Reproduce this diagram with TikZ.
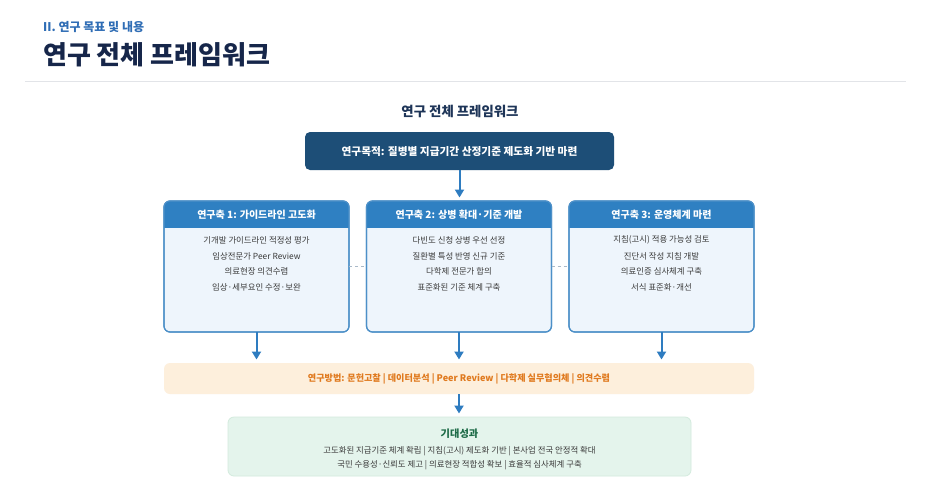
\documentclass[tikz,border=0pt]{standalone}
\usepackage{fontspec}
\setmainfont{Noto Sans CJK KR}
\usetikzlibrary{arrows.meta}
\definecolor{secc}{HTML}{2F6DB5}
\definecolor{titlec}{HTML}{16264A}
\definecolor{subc}{HTML}{1E3558}
\definecolor{rulec}{HTML}{E2E4E8}
\definecolor{goalc}{HTML}{1D4E77}
\definecolor{arrowc}{HTML}{2E7CC0}
\definecolor{hdrc}{HTML}{2F80C2}
\definecolor{bodyc}{HTML}{EEF5FC}
\definecolor{borderc}{HTML}{4D90C8}
\definecolor{itemc}{HTML}{3A3A3A}
\definecolor{dashc}{HTML}{A9B9C8}
\definecolor{methc}{HTML}{FDEFDC}
\definecolor{methtc}{HTML}{E07A1F}
\definecolor{resc}{HTML}{E4F4EC}
\definecolor{resbc}{HTML}{D3EBDD}
\definecolor{restc}{HTML}{1D6B47}
\tikzset{
  arr/.style={draw=arrowc, line width=2pt, -{Triangle[length=8pt,width=9pt]}, shorten >=3.5pt},
  colbox/.style={draw=borderc, fill=bodyc, line width=1.2pt, rounded corners=6pt, outer sep=0pt,
    minimum width=185pt, minimum height=131pt, inner sep=0pt},
  coltitle/.style={font=\fontsize{10}{12}\selectfont\bfseries, text=white, inner sep=0pt},
  item/.style={font=\fontsize{8.4}{10}\selectfont, text=itemc, inner sep=0pt},
  resitem/.style={font=\fontsize{8.4}{10}\selectfont, text=itemc, inner sep=0pt},
  dashline/.style={draw=dashc, line width=0.8pt, dash pattern=on 3pt off 3pt},
}
\begin{document}
\begin{tikzpicture}[x=1pt,y=-1pt]
\useasboundingbox (0,0) rectangle (931,483);
\fill[white] (0,0) rectangle (931,483);
% header
\node[anchor=west, inner sep=0pt, text=secc, font=\fontsize{12}{14}\selectfont\bfseries] (sec) at (43,27) {II. 연구 목표 및 내용};
\node[anchor=west, inner sep=0pt, text=titlec, font=\fontsize{26}{30}\selectfont\bfseries] (ttl) at (43,55) {연구 전체 프레임워크};
\coordinate (rl) at (25,81);
\coordinate (rr) at (906,81);
\draw[rulec, line width=1pt] (rl) -- (rr);
\node[inner sep=0pt, text=subc, font=\fontsize{13.4}{15}\selectfont\bfseries] (sub) at (460,111) {연구 전체 프레임워크};
% goal
\node[fill=goalc, rounded corners=5pt, minimum width=309pt, minimum height=38pt, outer sep=0pt,
  text=white, font=\fontsize{10.7}{12}\selectfont\bfseries] (goal) at (459.5,151) {연구목적: 질병별 지급기간 산정기준 제도화 기반 마련};
% columns
\node[colbox] (c1) at (256.5,266.5) {};
\node[colbox] (c2) at (459,266.5) {};
\node[colbox] (c3) at (661.5,266.5) {};
\foreach \c in {c1,c2,c3}{
  \begin{scope}
    \clip[rounded corners=6pt] (\c.north west) rectangle (\c.south east);
    \fill[hdrc] (\c.north west) rectangle ([yshift=-27pt]\c.north east);
  \end{scope}
  \draw[borderc, line width=1.2pt, rounded corners=6pt] (\c.north west) rectangle (\c.south east);
}
\node[coltitle] (t1) at ([yshift=-13.5pt]c1.north) {연구축 1: 가이드라인 고도화};
\node[coltitle] (t2) at ([yshift=-13.5pt]c2.north) {연구축 2: 상병 확대·기준 개발};
\node[coltitle] (t3) at ([yshift=-13.5pt]c3.north) {연구축 3: 운영체계 마련};
\node[item] (i11) at (256.5,240) {기개발 가이드라인 적정성 평가};
\node[item] (i12) at (256.5,256) {임상전문가 Peer Review};
\node[item] (i13) at (256.5,271.5) {의료현장 의견수렴};
\node[item] (i14) at (256.5,287) {임상·세부요인 수정·보완};
\node[item] (i21) at (459,240) {다빈도 신청 상병 우선 선정};
\node[item] (i22) at (459,256) {질환별 특성 반영 신규 기준};
\node[item] (i23) at (459,271.5) {다학제 전문가 합의};
\node[item] (i24) at (459,287) {표준화된 기준 체계 구축};
\node[item] (i31) at (661.5,240) {지침(고시) 적용 가능성 검토};
\node[item] (i32) at (661.5,256) {진단서 작성 지침 개발};
\node[item] (i33) at (661.5,271.5) {의료인증 심사체계 구축};
\node[item] (i34) at (661.5,287) {서식 표준화·개선};
\draw[dashline] (c1.east) -- (c2.west);
\draw[dashline] (c2.east) -- (c3.west);
% method
\node[fill=methc, rounded corners=6pt, minimum width=590pt, minimum height=31pt, outer sep=0pt,
  text=methtc, font=\fontsize{9.1}{11}\selectfont\bfseries] (meth) at (459,378.5) {연구방법: 문헌고찰 | 데이터분석 | Peer Review | 다학제 실무협의체 | 의견수렴};
% result
\node[fill=resc, draw=resbc, line width=0.8pt, rounded corners=6pt, minimum width=463pt, minimum height=59pt, outer sep=0pt] (res) at (459.5,446.5) {};
\node[inner sep=0pt, text=restc, font=\fontsize{10.2}{12}\selectfont\bfseries] (rt) at (459.5,433.5) {기대성과};
\node[resitem] (r1) at (459.5,451) {고도화된 지급기준 체계 확립 | 지침(고시) 제도화 기반 | 본사업 전국 안정적 확대};
\node[resitem] (r2) at (459.5,465) {국민 수용성·신뢰도 제고 | 의료현장 적합성 확보 | 효율적 심사체계 구축};
% arrows
\draw[arr] (goal.south) -- (goal.south |- c2.north);
\draw[arr] (c1.south) -- (c1.south |- meth.north);
\draw[arr] (c2.south) -- (c2.south |- meth.north);
\draw[arr] (c3.south) -- (c3.south |- meth.north);
\draw[arr] (meth.south) -- (meth.south |- res.north);
\end{tikzpicture}
\end{document}
